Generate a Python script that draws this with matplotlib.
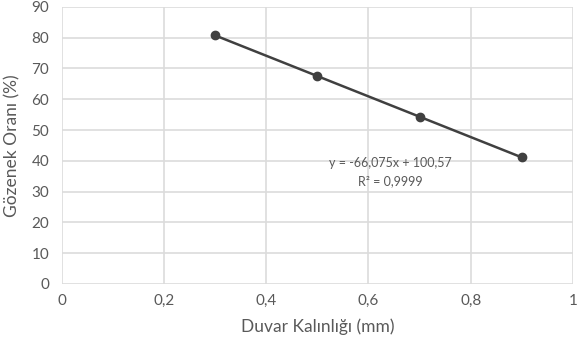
import numpy as np
import matplotlib
matplotlib.use("Agg")
import matplotlib.pyplot as plt

plt.rcParams['font.family'] = ['Lato', 'DejaVu Sans']

wall_thickness = [0.3, 0.5, 0.7, 0.9]
porosity = [80.75, 67.53, 54.32, 41.10]
x_ticks = [0, 0.2, 0.4, 0.6, 0.8, 1]
x_tick_labels = ['0', '0,2', '0,4', '0,6', '0,8', '1']
y_ticks = [0, 10, 20, 30, 40, 50, 60, 70, 80, 90]
equation_text = "y = -66,075x + 100,57"
r2_text = "R² = 0,9999"

fig = plt.figure(figsize=(5.77, 3.47), dpi=100)
ax = fig.add_axes([0.107, 0.182, 0.886, 0.798])

coef = np.polyfit(wall_thickness, porosity, 1)
xs = np.array([min(wall_thickness), max(wall_thickness)])
ax.plot(xs, np.polyval(coef, xs), color='#404040', lw=1.8, zorder=3)
ax.plot(wall_thickness, porosity, 'o', color='#404040', ms=6, zorder=4)

ax.set_xlim(0, 1)
ax.set_ylim(0, 90)
ax.set_xticks(x_ticks)
ax.set_xticklabels(x_tick_labels)
ax.set_yticks(y_ticks)
ax.grid(True, color='#dcdcdc', lw=1.2)
ax.set_axisbelow(True)
for s in ax.spines.values():
    s.set_visible(False)
ax.tick_params(length=0, colors='#595959', labelsize=11, pad=7)
ax.tick_params(axis='y', pad=9)

ax.set_xlabel('Duvar Kalınlığı (mm)', color='#595959', fontsize=12.5, labelpad=8)
ax.set_ylabel('Gözenek Oranı (%)', color='#595959', fontsize=12.5, labelpad=8)

ax.text(0.642, 39.3, equation_text, ha='center', va='center', fontsize=9, color='#595959')
ax.text(0.642, 33.3, r2_text, ha='center', va='center', fontsize=9, color='#595959')

fig.savefig('out.png', dpi=100)
